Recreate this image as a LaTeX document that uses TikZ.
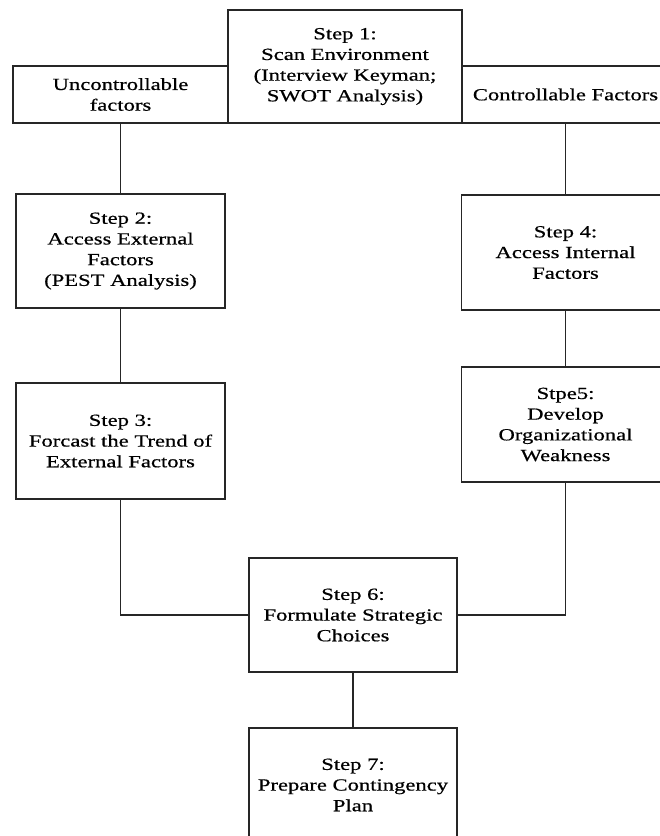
\documentclass[tikz,border=0pt]{standalone}
\usepackage{fontspec}
\setmainfont{Liberation Serif}[FakeStretch=1.33, FakeBold=0.6]

\begin{document}
\begin{tikzpicture}[x = 1pt, y = -1pt, line width = 1.1pt, draw = black!85,
        stepbox/.style = {draw = black!85, inner sep = 0pt, align = center,
            minimum width = 208pt, minimum height = 115pt,
            font = \fontsize{17}{20.7}\selectfont}]
        \useasboundingbox (0, 0) rectangle (660, 836);
        \clip (0, 0) rectangle (660, 836);
        \node [stepbox, minimum width = 215pt, minimum height = 57pt] (unctrl) at (120.5, 94.5)
            {Uncontrollable\\ factors};
        \node [stepbox, minimum width = 207pt, minimum height = 57pt] (ctrl) at (565.5, 94.5)
            {Controllable Factors};
        \node [stepbox, minimum width = 234pt, minimum height = 113pt] (step1) at (345, 66.5)
            {Step 1:\\ Scan Environment\\ (Interview Keyman;\\ SWOT Analysis)};
        \node [stepbox, minimum width = 209pt, minimum height = 114pt] (step2) at (120.5, 251)
            {Step 2:\\ Access External\\ Factors\\ (PEST Analysis)};
        \node [stepbox, minimum width = 209pt, minimum height = 116pt] (step3) at (120.5, 441)
            {Step 3:\\ Forcast the Trend of\\ External Factors};
        \node [stepbox] (step4) at (565.5, 252.5)
            {Step 4:\\ Access Internal\\ Factors};
        \node [stepbox] (step5) at (565.5, 424.5)
            {Stpe5:\\ Develop\\ Organizational\\ Weakness};
        \node [stepbox, minimum height = 114pt] (step6) at (353, 615)
            {Step 6:\\ Formulate Strategic\\ Choices};
        \node [stepbox, minimum height = 114pt] (step7) at (353, 785)
            {Step 7:\\ Prepare Contingency\\ Plan};
        \draw (unctrl) -- (step2);
        \draw (ctrl) -- (step4);
        \draw (step2) -- (step3);
        \draw (step4) -- (step5);
        \draw (step3) |- (step6);
        \draw (step5) |- (step6);
        \draw (step6) -- (step7);
    \end{tikzpicture}
\end{document}
